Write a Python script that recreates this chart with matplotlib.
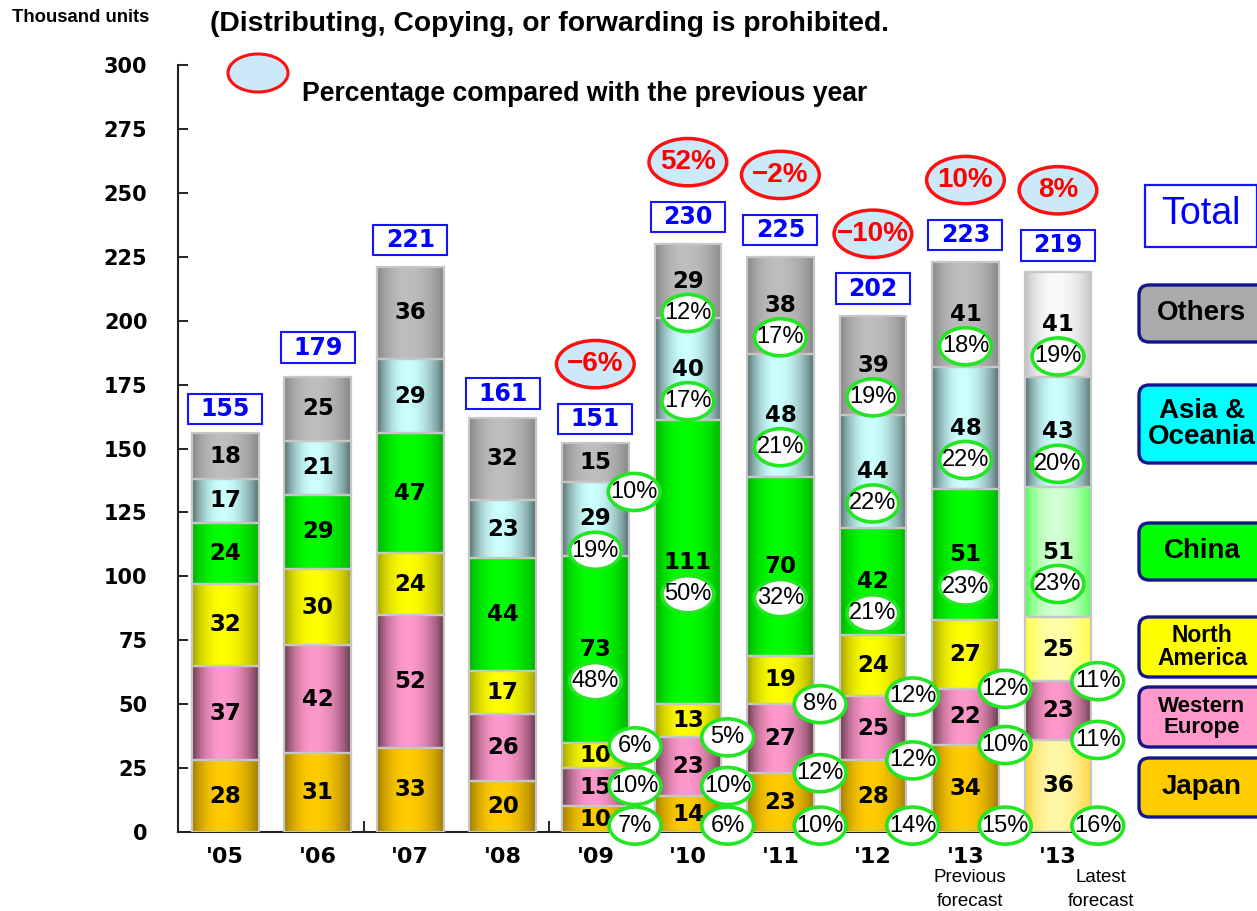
import numpy as np
import matplotlib.pyplot as plt
from matplotlib.patches import Ellipse, Rectangle, FancyBboxPatch
from matplotlib.colors import to_rgb

years = ["'05", "'06", "'07", "'08", "'09", "'10", "'11", "'12", "'13", "'13"]
regions = ["Japan", "Western\nEurope", "North\nAmerica", "China", "Asia &\nOceania", "Others"]

japan = [28, 31, 33, 20, 10, 14, 23, 28, 34, 36]
western_europe = [37, 42, 52, 26, 15, 23, 27, 25, 22, 23]
north_america = [32, 30, 24, 17, 10, 13, 19, 24, 27, 25]
china = [24, 29, 47, 44, 73, 111, 70, 42, 51, 51]
asia_oceania = [17, 21, 29, 23, 29, 40, 48, 44, 48, 43]
others = [18, 25, 36, 32, 15, 29, 38, 39, 41, 41]
totals = [155, 179, 221, 161, 151, 230, 225, 202, 223, 219]

# year-on-year change and regional share (%), from '09 onwards
yoy = [None, None, None, None, -6, 52, -2, -10, 10, 8]
share_japan = [None, None, None, None, 7, 6, 10, 14, 15, 16]
share_we = [None, None, None, None, 10, 10, 12, 12, 10, 11]
share_na = [None, None, None, None, 6, 5, 8, 12, 12, 11]
share_china = [None, None, None, None, 48, 50, 32, 21, 23, 23]
share_asia = [None, None, None, None, 19, 17, 21, 22, 22, 20]
share_others = [None, None, None, None, 10, 12, 17, 19, 18, 19]

series = [japan, western_europe, north_america, china, asia_oceania, others]
shares = [share_japan, share_we, share_na, share_china, share_asia, share_others]

# (edge, highlight) colours for the cylinder shading
shades = [("#9a7300", "#ffcc00"), ("#5c3243", "#ff99cc"), ("#9c9c00", "#ffff00"),
          ("#00aa00", "#00ff00"), ("#4c6262", "#ccffff"), ("#828282", "#bebebe")]
shades_latest = [("#ffcf30", "#fff7a8"), ("#5c3243", "#ff99cc"), ("#ffff33", "#ffffa8"),
                 ("#44ff44", "#d4ffd4"), ("#4c6262", "#ccffff"), ("#bdbdbd", "#fafafa")]
legend_fill = ["#ffcc00", "#ff99cc", "#ffff00", "#00ff00", "#00ffff", "#aaaaaa"]

BOLD_WIDE = "DejaVu Sans"
NARROW = ["Liberation Sans Narrow", "Liberation Sans"]


def cylinder(edge, mid, peak=0.45, n=90):
    t = np.linspace(0, 1, n)
    u = np.where(t < peak, t / peak, (1 - t) / (1 - peak))
    w = np.sin(u * np.pi / 2) ** 0.7
    e, m = np.array(to_rgb(edge)), np.array(to_rgb(mid))
    row = e + (m - e) * w[:, None]
    return row[None, :, :]


def share_mark(ax, x, y, pct):
    ax.add_patch(Ellipse((x, y), 0.56, 14.5, facecolor="white", edgecolor="#22e622",
                         linewidth=2.6, zorder=5, clip_on=False))
    ax.text(x, y, f"{pct}%", ha="center", va="center", fontsize=17, family=NARROW,
            zorder=6, clip_on=False)


W, H = 1257, 911
fig = plt.figure(figsize=(W / 100, H / 100), dpi=100)
ax = fig.add_axes([178 / W, 1 - 832 / H, (1095 - 178) / W, (832 - 65) / H])

x = np.arange(len(years))
width = 0.72
bottom = np.zeros(len(years))
outer_y = [[None] * len(years) for _ in range(3)]

for k, vals in enumerate(series):
    bars = ax.bar(x, vals, width, bottom=bottom, facecolor="none",
                  edgecolor="#c6c6c6", linewidth=1.6, zorder=3)
    for i, bar in enumerate(bars):
        edge, mid = (shades_latest if i == 9 else shades)[k]
        x0, y0 = bar.get_x(), bar.get_y()
        im = ax.imshow(cylinder(edge, mid), extent=[x0, x0 + bar.get_width(), y0, y0 + bar.get_height()],
                       aspect="auto", interpolation="bilinear", zorder=2)
        im.set_clip_path(bar)
        ymid = y0 + vals[i] / 2
        ax.text(x[i], ymid, str(vals[i]), ha="center", va="center", fontsize=16.5,
                fontweight="bold", family=BOLD_WIDE, zorder=4)
        pct = shares[k][i]
        if pct is None:
            continue
        if k == 0:
            share_mark(ax, x[i] + 0.43, 2.5, pct)
            outer_y[0][i] = 2.5
        elif k < 3:
            yy = max(y0, outer_y[k - 1][i] + 15.5)
            outer_y[k][i] = yy
            share_mark(ax, x[i] + 0.43, yy, pct)
        elif vals[i] < 20:
            share_mark(ax, x[i] + 0.42, y0 - 4, pct)
        else:
            share_mark(ax, x[i], ymid - 12.5, pct)
    bottom += np.array(vals)

# totals and year-on-year change above the bars
for i, tot in enumerate(totals):
    ax.add_patch(Rectangle((x[i] - 0.4, tot + 4.5), 0.8, 12, facecolor="white",
                           edgecolor="#1414ff", linewidth=1.5, zorder=5, clip_on=False))
    ax.text(x[i], tot + 10.5, str(tot), ha="center", va="center", fontsize=17,
            fontweight="bold", color="#0000ff", family=BOLD_WIDE, zorder=6)
    if yoy[i] is not None:
        ax.add_patch(Ellipse((x[i], tot + 32), 0.84, 18.5, facecolor="#cce9fa",
                             edgecolor="#ff1010", linewidth=2.5, zorder=5, clip_on=False))
        ax.text(x[i], tot + 32, f"{yoy[i]}%".replace("-", "\u2212"), ha="center", va="center",
                fontsize=20, fontweight="bold", color="#ff0000", family=NARROW, zorder=6)

ax.set_xlim(-0.51, 9.4)
ax.set_ylim(0, 300)
ax.set_yticks(range(0, 301, 25))
ax.set_xticks(x, years)
ax.set_xticks([1.5, 3.5, 5.5, 7.5], minor=True)
ax.tick_params(axis="y", direction="in", length=7, width=1.2, pad=22, labelsize=15)
ax.tick_params(axis="x", which="major", length=0, pad=11, labelsize=16)
ax.tick_params(axis="x", which="minor", direction="in", length=8, width=1.2)
for lab in ax.get_yticklabels() + ax.get_xticklabels():
    lab.set_fontweight("bold")
    lab.set_family(BOLD_WIDE)
for side in ("top", "right"):
    ax.spines[side].set_visible(False)
for side in ("left", "bottom"):
    ax.spines[side].set_linewidth(1.5)
    ax.spines[side].set_color("#222222")

# page furniture in pixel coordinates
ov = fig.add_axes([0, 0, 1, 1])
ov.set_xlim(0, W)
ov.set_ylim(H, 0)
ov.axis("off")

ov.text(12, 17, "Thousand units", ha="left", va="center", fontsize=13.3, fontweight="bold", family=NARROW)
ov.text(210, 24, "(Distributing, Copying, or forwarding is prohibited.", ha="left", va="center",
        fontsize=20.3, fontweight="bold", family=NARROW)
ov.add_patch(Ellipse((258, 73), 60, 38, facecolor="#cce9fa", edgecolor="#ff1010", linewidth=2.2))
ov.text(302, 94, "Percentage compared with the previous year", ha="left", va="center",
        fontsize=19.2, fontweight="bold", family=NARROW)

ov.text(970, 877, "Previous", ha="center", va="center", fontsize=13.5, family="Liberation Sans")
ov.text(970, 902, "forecast", ha="center", va="center", fontsize=13.5, family="Liberation Sans")
ov.text(1101, 877, "Latest", ha="center", va="center", fontsize=13.5, family="Liberation Sans")
ov.text(1101, 902, "forecast", ha="center", va="center", fontsize=13.5, family="Liberation Sans")

# legend keys
ov.add_patch(Rectangle((1145, 185), 112, 62, facecolor="white", edgecolor="#1414ff", linewidth=1.6))
ov.text(1201, 214, "Total", ha="center", va="center", fontsize=27, color="#0000ff", family="Liberation Sans")

key_rows = [(758, 817, 20), (687, 747, 16), (617, 677, 16.5), (523, 580, 20), (385, 463, 20), (285, 342, 20)]
for name, fill, (top, bot, fs) in zip(regions, legend_fill, key_rows):
    ov.add_patch(FancyBboxPatch((1139, top), 150, bot - top, boxstyle="round,pad=0,rounding_size=10",
                                facecolor=fill, edgecolor="#14148c", linewidth=2.4))
    ov.text(1202, (top + bot) / 2, name, ha="center", va="center", fontsize=fs, fontweight="bold",
            family="Liberation Sans", linespacing=0.95)

fig.savefig("out.png", dpi=100)
